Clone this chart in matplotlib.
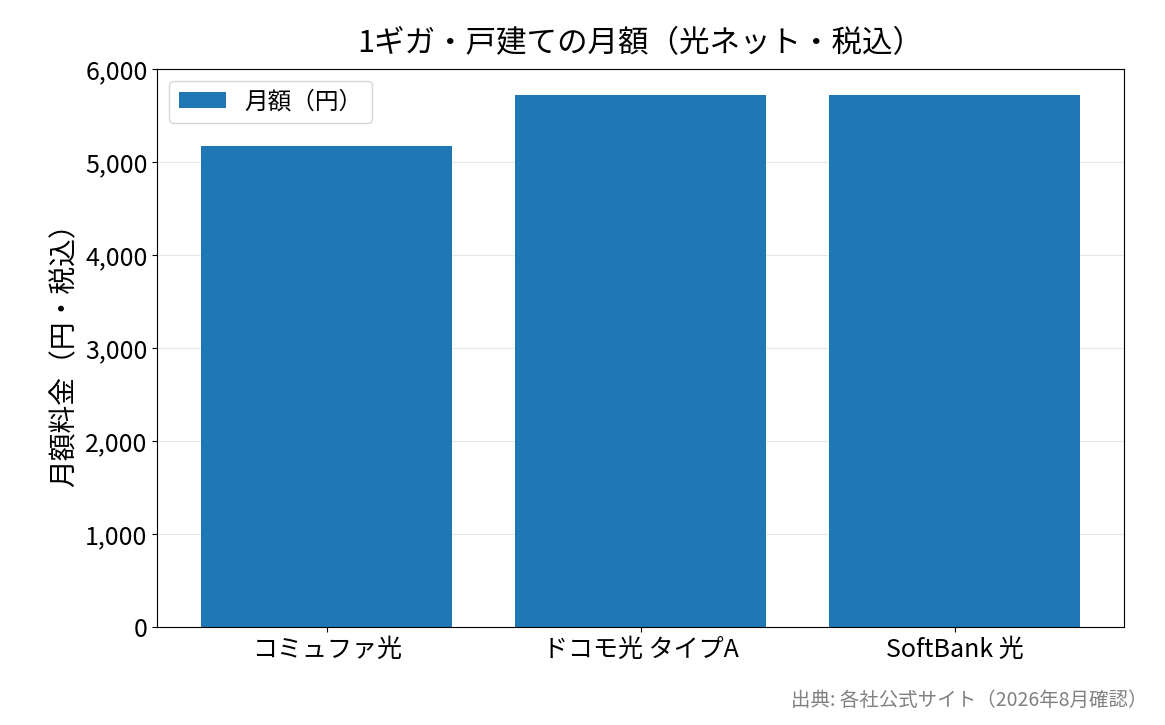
import matplotlib
matplotlib.use("Agg")
import matplotlib.pyplot as plt

plt.rcParams["font.family"] = ["Noto Sans CJK JP", "DejaVu Sans"]

providers = ["コミュファ光", "ドコモ光 タイプA", "SoftBank 光"]
monthly_yen = [5170, 5720, 5720]

fig, ax = plt.subplots(figsize=(11.65, 7.25), dpi=100)
ax.bar(providers, monthly_yen, color="#1f77b4", width=0.8, label="月額（円）", zorder=2)
ax.set_ylim(0, 6000)
ax.yaxis.set_major_formatter(matplotlib.ticker.StrMethodFormatter("{x:,.0f}"))
ax.grid(axis="y", alpha=0.3, zorder=0)
ax.set_title("1ギガ・戸建ての月額（光ネット・税込）", fontsize=22, pad=12)
ax.set_ylabel("月額料金（円・税込）", fontsize=20)
ax.tick_params(labelsize=18)
ax.legend(fontsize=17, loc="upper left")
fig.text(0.985, 0.02, "出典: 各社公式サイト（2026年8月確認）", ha="right", va="bottom",
         fontsize=14, color="gray")
fig.subplots_adjust(left=0.135, right=0.965, top=0.905, bottom=0.135)
fig.savefig("out.png")
